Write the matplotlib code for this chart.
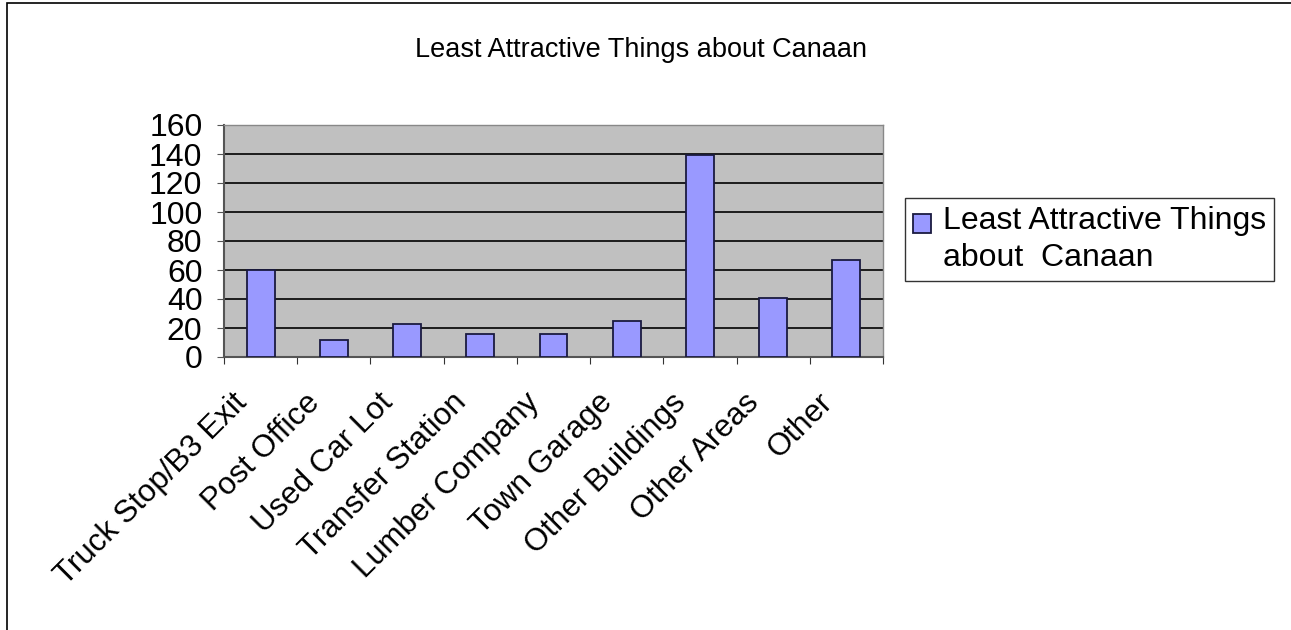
import matplotlib.pyplot as plt
from matplotlib.patches import Rectangle
from matplotlib.legend_handler import HandlerPatch
from matplotlib.container import BarContainer
import matplotlib.transforms as mtransforms
import numpy as np

plt.rcParams['font.family'] = ['Liberation Sans', 'DejaVu Sans']

# Data
categories = ['Truck Stop/B3 Exit', 'Post Office', 'Used Car Lot', 'Transfer Station',
              'Lumber Company', 'Town Garage', 'Other Buildings', 'Other Areas', 'Other']
counts = [60, 12, 23, 16, 16, 25, 139, 41, 67]
series_name = 'Least Attractive Things\nabout  Canaan'
title = 'Least Attractive Things about Canaan'
yticks = [0, 20, 40, 60, 80, 100, 120, 140, 160]

W, H = 1291, 630
fig = plt.figure(figsize=(W / 100, H / 100), dpi=100)

# outer chart border
fig.patches.append(Rectangle((7 / W, -0.01), 1.0, 1 - 3 / H + 0.01, transform=fig.transFigure,
                             fill=False, edgecolor='black', lw=1.2))

ax = fig.add_axes([224 / W, 1 - 357 / H, (883 - 224) / W, (357 - 125) / H])
ax.set_facecolor('#C0C0C0')

x = np.arange(len(categories))
ax.bar(x, counts, width=0.38, color='#9999FF', edgecolor='#1a1a40', lw=1.3,
       label=series_name, zorder=3)

ax.set_xlim(-0.5, len(categories) - 0.5)
ax.set_ylim(0, 160)
ax.set_yticks(yticks)
ax.tick_params(axis='y', labelsize=23, length=5, direction='out', colors='#555555',
               labelcolor='black', pad=10.5)
ax.yaxis.grid(True, color='black', lw=1.2, zorder=1)
ax.set_axisbelow(True)

# x ticks sit between categories, labels at category centres
ax.set_xticks(np.arange(len(categories) + 1) - 0.5)
ax.set_xticklabels([])
ax.set_xticks(x, minor=True)
ax.set_xticklabels(categories, minor=True, rotation=45, ha='right', va='top',
                   rotation_mode='anchor', fontsize=22.5)
ax.tick_params(axis='x', which='major', length=5, direction='out', color='#333333')
ax.tick_params(axis='x', which='minor', length=0, pad=22)
shift = mtransforms.ScaledTranslation(-29 / 100, 0, fig.dpi_scale_trans)
for lbl in ax.get_xticklabels(minor=True):
    lbl.set_transform(lbl.get_transform() + shift)

for side in ['left', 'bottom']:
    ax.spines[side].set_color('#555555')
    ax.spines[side].set_linewidth(1.5)
for side in ['top', 'right']:
    ax.spines[side].set_color('#888888')
    ax.spines[side].set_linewidth(1.0)

fig.text(641 / W, 1 - 57 / H, title, ha='center', va='baseline', fontsize=19.5)


# legend square sits beside the first line of the two-line label
def raised_square(legend, orig_handle, xdescent, ydescent, width, height, fontsize):
    return Rectangle((-xdescent, -ydescent + 0.5 * fontsize), width, height)


def copy_style(legend_handle, orig_handle):
    legend_handle.update_from(orig_handle.patches[0])


leg = ax.legend(loc='upper left', bbox_to_anchor=(905 / W, 1 - 198 / H),
                bbox_transform=fig.transFigure, fontsize=23, frameon=True, fancybox=False,
                edgecolor='black', handlelength=0.55, handleheight=0.55, handletextpad=0.4,
                borderpad=0.25, borderaxespad=0, labelspacing=0.2,
                handler_map={BarContainer: HandlerPatch(patch_func=raised_square,
                                                        update_func=copy_style)})
leg.get_frame().set_linewidth(1.0)
for t in leg.get_texts():
    t.set_linespacing(1.3)

fig.savefig('out.png', dpi=100)
